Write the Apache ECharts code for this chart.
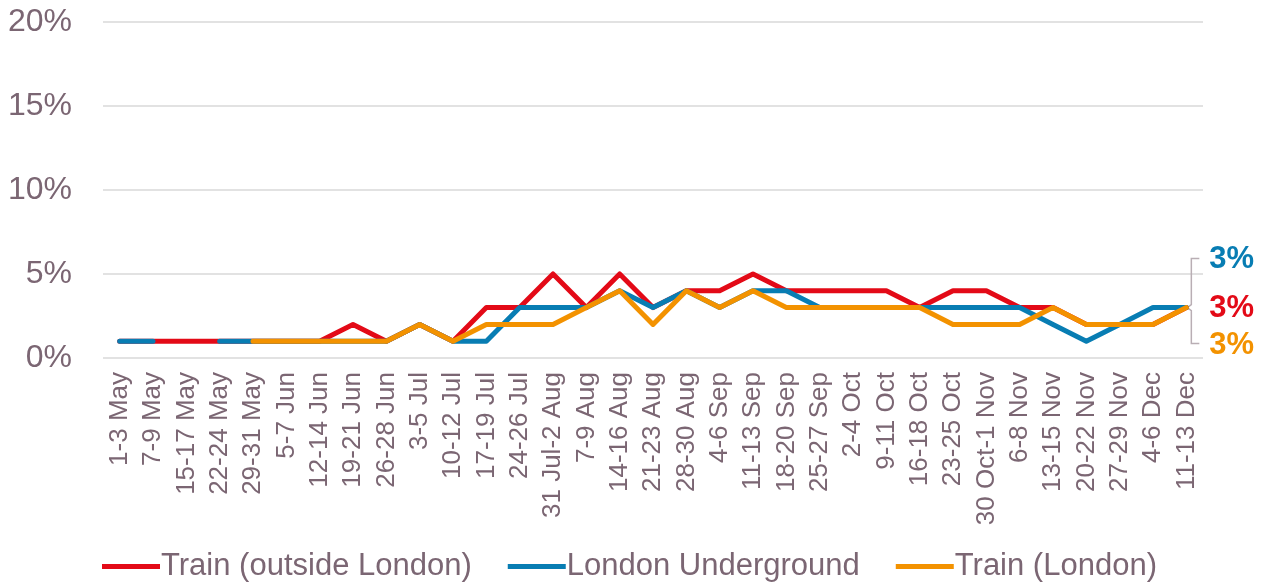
<!DOCTYPE html>
<html>
<head>
<meta charset="utf-8">
<script src="https://cdn.jsdelivr.net/npm/echarts@6/dist/echarts.min.js"></script>
<style>
  html, body { margin: 0; padding: 0; background: #fff; }
  #chart { width: 1269px; height: 588px; }
</style>
</head>
<body>
<div id="chart"></div>
<script>
  // weekly survey periods
  var weeks = ['1-3 May', '7-9 May', '15-17 May', '22-24 May', '29-31 May', '5-7 Jun', '12-14 Jun',
    '19-21 Jun', '26-28 Jun', '3-5 Jul', '10-12 Jul', '17-19 Jul', '24-26 Jul', '31 Jul-2 Aug',
    '7-9 Aug', '14-16 Aug', '21-23 Aug', '28-30 Aug', '4-6 Sep', '11-13 Sep', '18-20 Sep',
    '25-27 Sep', '2-4 Oct', '9-11 Oct', '16-18 Oct', '23-25 Oct', '30 Oct-1 Nov', '6-8 Nov',
    '13-15 Nov', '20-22 Nov', '27-29 Nov', '4-6 Dec', '11-13 Dec'];

  var trainOutside = [1, 1, 1, 1, 1, 1, 1, 2, 1, 2, 1, 3, 3, 5, 3, 5, 3, 4, 4, 5, 4, 4, 4, 4, 3, 4, 4, 3, 3, 2, 2, 2, 3];
  var underground = [1, 1, null, 1, 1, 1, 1, 1, 1, 2, 1, 1, 3, 3, 3, 4, 3, 4, 3, 4, 4, 3, 3, 3, 3, 3, 3, 3, 2, 1, 2, 3, 3];
  var trainLondon = [null, null, null, null, 1, 1, 1, 1, 1, 2, 1, 2, 2, 2, 3, 4, 2, 4, 3, 4, 3, 3, 3, 3, 3, 2, 2, 2, 3, 2, 2, 2, 3];

  var names = ['Train (outside London)', 'London Underground', 'Train (London)'];
  var colors = ['#e30a17', '#087db3', '#f39200'];
  var yTicks = [0, 5, 10, 15, 20];

  var textColor = '#7b6673';

  function lineSeries(name, data, color) {
    return {
      name: name,
      type: 'line',
      data: data,
      symbol: 'none',
      connectNulls: false,
      color: color,
      lineStyle: { width: 5, color: color, cap: 'round', join: 'round' }
    };
  }

  var chart = echarts.init(document.getElementById('chart'));
  chart.setOption({
    animation: false,
    textStyle: { fontFamily: 'Liberation Sans, Arial, sans-serif' },
    grid: { left: 103, right: 66, top: 22, bottom: 230, containLabel: false },
    legend: {
      data: names,
      left: 97,
      bottom: 1,
      icon: 'rect',
      itemWidth: 58,
      itemHeight: 5,
      itemGap: 36,
      textStyle: { color: textColor, fontSize: 31, padding: [0, 0, 0, -4] }
    },
    xAxis: {
      type: 'category',
      data: weeks,
      boundaryGap: true,
      axisLine: { show: false },
      axisTick: { show: false },
      axisLabel: { rotate: 90, interval: 0, margin: 14, fontSize: 26, color: textColor }
    },
    yAxis: {
      type: 'value',
      min: yTicks[0],
      max: yTicks[yTicks.length - 1],
      interval: 5,
      axisLine: { show: false },
      axisTick: { show: false },
      splitLine: { lineStyle: { color: '#d9d9d9', width: 1.5 } },
      axisLabel: { fontSize: 32, color: textColor, margin: 31, formatter: '{value}%' }
    },
    series: [
      lineSeries(names[0], trainOutside, colors[0]),
      lineSeries(names[1], underground, colors[1]),
      lineSeries(names[2], trainLondon, colors[2])
    ]
  });

  // end labels with bracket, placed from the last data point
  var last = weeks.length - 1;
  var p = chart.convertToPixel({ seriesIndex: 0 }, [last, trainOutside[last]]);
  var bx = p[0] + 3, by = p[1];
  var labelFont = 'bold 31px Liberation Sans, Arial, sans-serif';
  chart.setOption({
    graphic: [
      {
        type: 'polyline',
        shape: { points: [[bx + 10, by - 49], [bx + 2, by - 49], [bx + 2, by - 3], [bx - 2, by], [bx + 2, by + 3], [bx + 2, by + 36], [bx + 10, by + 36]] },
        style: { stroke: '#b9aeb4', lineWidth: 1.5, fill: null }
      },
      { type: 'text', x: bx + 20, y: by - 48, style: { text: underground[last] + '%', font: labelFont, fill: colors[1], verticalAlign: 'middle' } },
      { type: 'text', x: bx + 20, y: by + 1, style: { text: trainOutside[last] + '%', font: labelFont, fill: colors[0], verticalAlign: 'middle' } },
      { type: 'text', x: bx + 20, y: by + 38, style: { text: trainLondon[last] + '%', font: labelFont, fill: colors[2], verticalAlign: 'middle' } }
    ]
  });
</script>
</body>
</html>
